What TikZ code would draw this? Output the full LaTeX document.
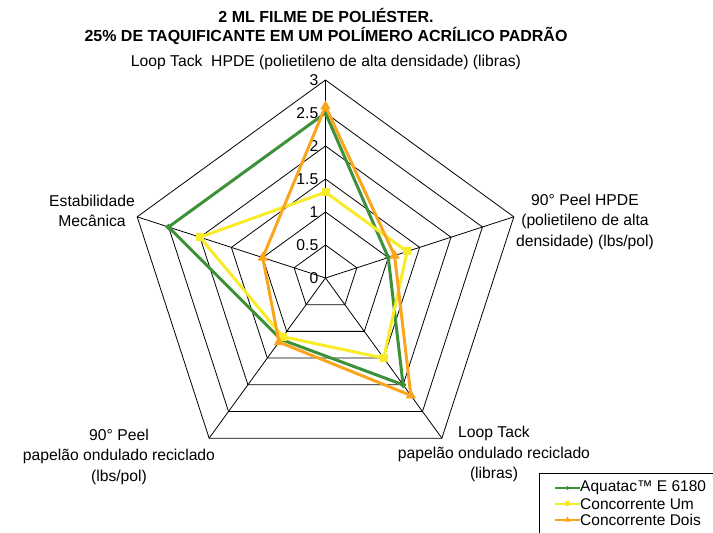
\documentclass[tikz,border=0pt]{standalone}
\usepackage{fontspec}
\setmainfont{Liberation Sans}
\usetikzlibrary{shapes.geometric, positioning}
\definecolor{aquagreen}{RGB}{61,145,57}
\definecolor{umyellow}{RGB}{250,235,40}
\definecolor{doisorange}{RGB}{250,165,30}
\begin{document}
\begin{tikzpicture}[x=1pt, y=1pt,
        axislabel/.style={align=center, font=\fontsize{15.7}{20.5}\selectfont, inner sep=0pt},
        ticklabel/.style={anchor=east, font=\fontsize{15.7}{18}\selectfont, inner sep=0pt},
        titletext/.style={align=center, font=\fontsize{16}{19}\selectfont\bfseries, inner sep=0pt},
        legendtext/.style={anchor=west, font=\fontsize{15.5}{18}\selectfont, inner sep=0pt},
        gridline/.style={draw=black, line width=0.8pt},
        series/.style={line width=3pt, line join=miter},
        greenmark/.style={diamond, fill=aquagreen, inner sep=0pt, minimum size=7pt},
        yellowmark/.style={rectangle, fill=umyellow, inner sep=0pt, minimum size=8pt},
        orangemark/.style={regular polygon, regular polygon sides=3, fill=doisorange, inner sep=0pt, minimum size=12pt}
    ]
        \useasboundingbox (0,0) rectangle (713,533);
        \node[titletext] (title) at (326,507) {2 ML FILME DE POLIÉSTER.\\25\% DE TAQUIFICANTE EM UM POLÍMERO ACRÍLICO PADRÃO};

        \begin{scope}[shift={(325.5,255)}]
            % rings and axes
            \foreach \r in {0.5,1,...,3}
                \draw[gridline] (90:\r*66) -- (18:\r*66) -- (-54:\r*66) -- (-126:\r*66) -- (162:\r*66) -- cycle;
            \foreach \a in {90,18,-54,-126,162}
                \draw[gridline] (0,0) -- (\a:198);
            \foreach \v in {0,0.5,1,1.5,2,2.5,3}
                \node[ticklabel] at (-7,\v*66) {\v};

            % data points
            \foreach \n/\a/\v in {1/90/2.5, 2/18/1.0, 3/-54/2.0, 4/-126/1.15, 5/162/2.5}
                \coordinate (g\n) at (\a:\v*66);
            \foreach \n/\a/\v in {1/90/1.3, 2/18/1.3, 3/-54/1.5, 4/-126/1.1, 5/162/2.0}
                \coordinate (y\n) at (\a:\v*66);
            \foreach \n/\a/\v in {1/90/2.6, 2/18/1.1, 3/-54/2.2, 4/-126/1.2, 5/162/1.0}
                \coordinate (o\n) at (\a:\v*66);

            \draw[series, aquagreen] (g1) -- (g2) -- (g3) -- (g4) -- (g5) -- cycle;
            \foreach \n in {1,...,5} \node[greenmark] at (g\n) {};
            \draw[series, umyellow] (y1) -- (y2) -- (y3) -- (y4) -- (y5) -- cycle;
            \foreach \n in {1,...,5} \node[yellowmark] at (y\n) {};
            \draw[series, doisorange] (o1) -- (o2) -- (o3) -- (o4) -- (o5) -- cycle;
            \foreach \n in {1,...,5} \node[orangemark] at (o\n) {};
        \end{scope}

        % axis names
        \node[axislabel] (loophpde) at (326,471) {Loop Tack~ HPDE (polietileno de alta densidade) (libras)};
        \node[axislabel] (peelhpde) at (585,311.5) {90° Peel HPDE\\(polietileno de alta\\densidade) (lbs/pol)};
        \node[axislabel] (looppap) at (494,79) {Loop Tack\\papelão ondulado reciclado\\(libras)};
        \node[axislabel] (peelpap) at (119,76.5) {90° Peel\\papelão ondulado reciclado\\(lbs/pol)};
        \node[axislabel] (estab) at (92,322) {Estabilidade\\Mecânica};

        % legend
        \draw[gridline] (539,60) rectangle (714,-5);
        \node[legendtext] (leg1) at (580,45) {Aquatac™ E 6180};
        \node[legendtext] (leg2) at (580,29) {Concorrente Um};
        \node[legendtext] (leg3) at (580,13) {Concorrente Dois};
        \coordinate (k1) at (555,45);
        \coordinate (k2) at (555,29);
        \coordinate (k3) at (555,13);
        \draw[aquagreen, line width=1.5pt] (k1) -- (leg1.west) node[midway, greenmark, minimum size=5pt] {};
        \draw[umyellow, line width=1.5pt] (k2) -- (leg2.west) node[midway, yellowmark, minimum size=5pt] {};
        \draw[doisorange, line width=1.5pt] (k3) -- (leg3.west) node[midway, orangemark, minimum size=7pt] {};
\end{tikzpicture}
\end{document}
